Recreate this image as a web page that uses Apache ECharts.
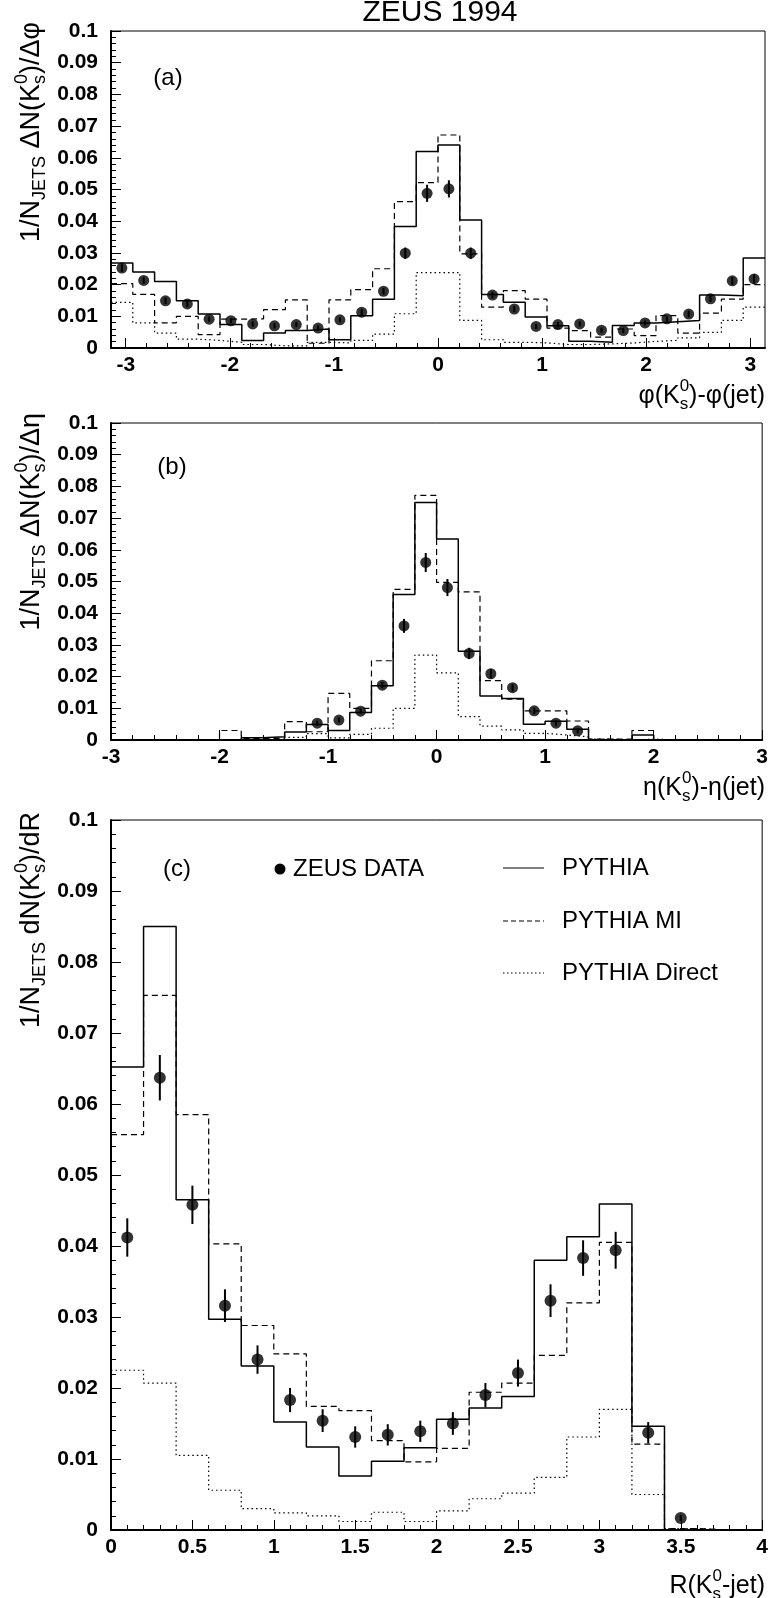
<!DOCTYPE html>
<html><head><meta charset="utf-8">
<script src="https://cdn.jsdelivr.net/npm/echarts@6/dist/echarts.min.js"></script>
<style>html,body{margin:0;padding:0;background:#fff}#c{width:771px;height:1598px}</style>
</head><body><div id="c"></div>
<script>
const PI = Math.PI;
const FONT = '"Liberation Sans", Arial, Helvetica, sans-serif';

// ---------- Panel (a): 30 bins over [-pi, pi] ----------
const phiBins = { lo: -PI, n: 30, hi: PI };
const phiPythia   = [0.0268,0.0240,0.0210,0.0149,0.0107,0.0074,0.0024,0.0047,0.0055,0.0060,0.0026,0.0102,0.0154,0.0383,0.0620,0.0640,0.0404,0.0169,0.0144,0.0098,0.0070,0.0021,0.0018,0.0071,0.0079,0.0083,0.0087,0.0167,0.0165,0.0284];
const phiPythiaMI = [0.0203,0.0169,0.0079,0.0100,0.0042,0.0091,0.0092,0.0121,0.0152,0.0015,0.0152,0.0184,0.0250,0.0462,0.0522,0.0672,0.0297,0.0129,0.0181,0.0154,0.0063,0.0055,0.0034,0.0060,0.0039,0.0102,0.0047,0.0110,0.0154,0.0200];
const phiDirect   = [0.0144,0.0079,0.0047,0.0028,0.0024,0.0018,0.0011,0.0007,0.0007,0.0018,0.0016,0.0024,0.0044,0.0108,0.0238,0.0238,0.0087,0.0026,0.0018,0.0016,0.0011,0.0011,0.0013,0.0016,0.0021,0.0024,0.0032,0.0049,0.0087,0.0129];
const phiData     = [0.0252,0.0213,0.0149,0.0139,0.0091,0.0086,0.0076,0.0070,0.0074,0.0063,0.0089,0.0113,0.0179,0.0299,0.0488,0.0502,0.0299,0.0167,0.0123,0.0068,0.0074,0.0076,0.0056,0.0055,0.0079,0.0092,0.0107,0.0155,0.0212,0.0218];
const phiErr      = [0.0012,0.0010,0.0010,0.0010,0.0008,0.0008,0.0008,0.0008,0.0008,0.0008,0.0008,0.0010,0.0010,0.0018,0.0027,0.0027,0.0018,0.0010,0.0010,0.0008,0.0008,0.0008,0.0008,0.0008,0.0008,0.0008,0.0010,0.0010,0.0012,0.0015];
const phiMajorTicks = [-3,-2,-1,0,1,2,3];
const phiMinorTicks = [-3,-2.8,-2.6,-2.4,-2.2,-2,-1.8,-1.6,-1.4,-1.2,-1,-0.8,-0.6,-0.4,-0.2,0,0.2,0.4,0.6,0.8,1,1.2,1.4,1.6,1.8,2,2.2,2.4,2.6,2.8,3];

// ---------- Panel (b): 30 bins over [-3, 3] ----------
const etaBins = { lo: -3, n: 30, hi: 3 };
const etaPythia   = [0,0,0,0,0,0,0.0007,0.0010,0.0025,0.0049,0.0030,0.0087,0.0171,0.0459,0.0749,0.0634,0.0280,0.0139,0.0131,0.0050,0.0059,0.0034,0,0,0.0016,0,0,0,0,0];
const etaPythiaMI = [0,0,0,0,0,0.0030,0.0005,0.0005,0.0058,0.0026,0.0147,0.0100,0.0250,0.0475,0.0772,0.0497,0.0467,0.0187,0.0129,0.0092,0.0092,0.0060,0.0003,0.0003,0.0030,0,0,0,0,0];
const etaDirect   = [0,0,0,0,0,0,0,0,0.0008,0.0020,0.0007,0.0018,0.0037,0.0100,0.0268,0.0212,0.0074,0.0044,0.0032,0.0021,0.0016,0.0010,0.0003,0,0.0003,0,0,0,0,0];
const etaData     = [null,null,null,null,null,null,null,null,null,0.0053,0.0063,0.0091,0.0173,0.0360,0.0560,0.0481,0.0273,0.0209,0.0165,0.0092,0.0053,0.0029,null,null,null,null,null,null,null,null];
const etaErr      = [0,0,0,0,0,0,0,0,0,0.0008,0.0008,0.0008,0.0010,0.0022,0.0030,0.0027,0.0018,0.0015,0.0012,0.0010,0.0008,0.0008,0,0,0,0,0,0,0,0];

// ---------- Panel (c): 20 bins over [0, 4] ----------
const rBins = { lo: 0, n: 20, hi: 4 };
const rPythia   = [0.0652,0.0850,0.0465,0.0297,0.0231,0.0152,0.0117,0.0076,0.0097,0.0116,0.0156,0.0172,0.0188,0.0380,0.0413,0.0459,0.0146,0,0,0];
const rPythiaMI = [0.0557,0.0753,0.0585,0.0403,0.0288,0.0248,0.0174,0.0168,0.0126,0.0096,0.0115,0.0194,0.0207,0.0246,0.0320,0.0405,0.0121,0.0002,0,0];
const rDirect   = [0.0225,0.0207,0.0105,0.0056,0.0030,0.0024,0.0020,0.0012,0.0025,0.0012,0.0027,0.0044,0.0052,0.0074,0.0131,0.0170,0.0050,0.0002,0,0];
const rData     = [0.0412,0.0637,0.0458,0.0316,0.0240,0.0183,0.0154,0.0131,0.0134,0.0139,0.0150,0.0190,0.0221,0.0323,0.0383,0.0394,0.0137,0.0017,null,null];
const rErr      = [0.0027,0.0032,0.0027,0.0023,0.0020,0.0017,0.0016,0.0015,0.0015,0.0015,0.0016,0.0017,0.0019,0.0023,0.0025,0.0026,0.0015,0.0004,0,0];

const legendNames = ['ZEUS DATA','PYTHIA','PYTHIA MI','PYTHIA Direct'];

// ---------- helpers ----------
function binEdge(b, i){ return b.lo + (b.hi - b.lo) * i / b.n; }
function stepData(b, vals){
  const d = vals.map((v,i)=>[binEdge(b,i), v]);
  d.push([binEdge(b, vals.length), vals[vals.length-1]]);
  return d;
}
function pointData(b, vals, errs){
  const out = [];
  vals.forEach((v,i)=>{ if(v!==null) out.push([(binEdge(b,i)+binEdge(b,i+1))/2, v, errs[i]]); });
  return out;
}
function histSeries(idx, b, vals, kind){
  const ls = {color:'#000', width: 1.5, type:'solid'};
  if(kind==='dash'){ ls.width = 1.2; ls.type = [6,4]; }
  if(kind==='dot'){ ls.width = 1.2; ls.type = [1.5,3]; }
  return {type:'line', xAxisIndex:idx, yAxisIndex:idx, step:'end', data: stepData(b, vals),
    showSymbol:false, symbol:'none', lineStyle: ls, silent:true, z:2, animation:false};
}
function dataSeries(idx, b, vals, errs, size){
  const pts = pointData(b, vals, errs);
  return [
    {type:'custom', xAxisIndex:idx, yAxisIndex:idx, data: pts, z:4, silent:true,
     encode:{x:0, y:1},
     renderItem:(p, api)=>{
       const x = api.value(0), y = api.value(1), e = api.value(2);
       const a = api.coord([x, y - e]), c = api.coord([x, y + e]);
       return {type:'line', shape:{x1:a[0], y1:a[1], x2:c[0], y2:c[1]}, style:{stroke:'#000', lineWidth:2}};
     }},
    {type:'scatter', xAxisIndex:idx, yAxisIndex:idx, data: pts.map(p=>[p[0],p[1]]), symbol:'circle',
     symbolSize:size, itemStyle:{color:'#000'}, z:5, silent:true}
  ];
}
const tickFont = {color:'#000', fontFamily:FONT, fontWeight:'bold', fontSize:21};
function yAxis(gi){
  return {type:'value', gridIndex:gi, min:0, max:0.1, interval:0.01,
    axisLine:{show:true, onZero:false, lineStyle:{color:'#000', width:2}},
    axisTick:{show:true, inside:true, length:10, lineStyle:{color:'#000', width:1}},
    minorTick:{show:true, splitNumber:5, length:5, lineStyle:{color:'#000', width:1}},
    splitLine:{show:false}, minorSplitLine:{show:false},
    axisLabel:Object.assign({margin:13, formatter:v=>String(+v.toFixed(3))}, tickFont)};
}
function xAxisStd(gi, min, max, interval){
  return {type:'value', gridIndex:gi, min:min, max:max, interval:interval, position:'bottom',
    axisLine:{show:true, onZero:false, lineStyle:{color:'#000', width:2}},
    axisTick:{show:true, inside:true, length:10, lineStyle:{color:'#000', width:1}},
    minorTick:{show:true, splitNumber:5, length:5, lineStyle:{color:'#000', width:1}},
    splitLine:{show:false},
    axisLabel:Object.assign({margin:7, formatter:v=>String(+v.toFixed(2))}, tickFont)};
}

// math-style text: segments laid out along a baseline, with sub/superscripts
const mctx = document.createElement('canvas').getContext('2d');
function tw(t, s){ mctx.font = s + 'px ' + FONT; return mctx.measureText(t).width; }
function mathText(segs, opt){
  let x = 0; const kids = [];
  segs.forEach(seg=>{
    const parts = seg.stack || [seg]; let mw = 0;
    parts.forEach(p=>{
      kids.push({type:'text', x:x, y:p.dy||0, silent:true,
        style:{text:p.t, fontSize:p.s, fontFamily:FONT, fill:'#000', align:'left', verticalAlign:'middle'}});
      mw = Math.max(mw, tw(p.t, p.s));
    });
    x += mw;
  });
  const shift = opt.anchor === 'end' ? -x : (opt.anchor === 'middle' ? -x/2 : 0);
  kids.forEach(k=>{ k.x += shift; });
  return {type:'group', x:opt.x, y:opt.y, rotation:opt.rotation||0, children:kids, silent:true};
}
const M = 25, S = 17;          // x titles / legend
const YM = 27, YS = 18;        // y titles
function kStack(m, s){ return {stack:[{t:'0', s:s, dy:-Math.round(m*0.38)},{t:'s', s:s, dy:Math.round(m*0.3)}]}; }

const graphics = [];
graphics.push({type:'text', x:440, y:13, silent:true, style:{text:'ZEUS 1994', fontSize:30, fontFamily:FONT, fill:'#000', align:'center', verticalAlign:'middle'}});
// y titles (rotated)
const yT = [
  {mid:'ΔN', end:')/Δφ', top:22},
  {mid:'ΔN', end:')/Δη', top:413},
  {mid:'dN', end:')/dR', top:812}
];
yT.forEach(o=>graphics.push(mathText([{t:'1/N', s:YM},{t:'JETS', s:YS, dy:8},{t:' '+o.mid+'(K', s:YM}, kStack(YM, YS), {t:o.end, s:YM}],
  {x:32, y:o.top, rotation:PI/2, anchor:'end'})));
// x titles
graphics.push(mathText([{t:'φ(K', s:M}, kStack(M, S), {t:')-φ(jet)', s:M}], {x:765, y:396, anchor:'end'}));
graphics.push(mathText([{t:'η(K', s:M}, kStack(M, S), {t:')-η(jet)', s:M}], {x:765, y:788, anchor:'end'}));
graphics.push(mathText([{t:'R(K', s:M}, kStack(M, S), {t:'-jet)', s:M}], {x:765, y:1586, anchor:'end'}));
// panel tags
[['(a)',168,78],['(b)',172,467],['(c)',177,869]].forEach(t=>graphics.push({type:'text', x:t[1], y:t[2], silent:true,
  style:{text:t[0], fontSize:24, fontFamily:FONT, fill:'#000', align:'center', verticalAlign:'middle'}}));
// legend (panel c)
graphics.push({type:'circle', shape:{cx:280, cy:869, r:5.5}, style:{fill:'#000'}, silent:true});
graphics.push({type:'text', x:293, y:869, silent:true, style:{text:legendNames[0], fontSize:24, fontFamily:FONT, fill:'#000', align:'left', verticalAlign:'middle'}});
const legLines = [[legendNames[1],868,'solid'],[legendNames[2],921,[5,3]],[legendNames[3],973,[1.5,2.5]]];
legLines.forEach(l=>{
  graphics.push({type:'line', shape:{x1:503, y1:l[1], x2:544, y2:l[1]}, style:{stroke:'#000', lineWidth:1.2, lineDash: l[2]==='solid'?null:l[2]}, silent:true});
  graphics.push({type:'text', x:562, y:l[1], silent:true, style:{text:l[0], fontSize:24, fontFamily:FONT, fill:'#000', align:'left', verticalAlign:'middle'}});
});

const gridBase = {left:111, width:654, show:true, borderColor:'#000', borderWidth:1, backgroundColor:'transparent', containLabel:false};
const phiX = xAxisStd(0, -PI, PI, 1);
delete phiX.interval;
phiX.axisTick.customValues = phiMajorTicks;
phiX.axisLabel.customValues = phiMajorTicks;
phiX.minorTick = {show:false};
const phiXMinor = {type:'value', gridIndex:0, min:-PI, max:PI, position:'bottom', offset:0,
  axisLine:{show:false}, axisLabel:{show:false}, splitLine:{show:false},
  axisTick:{show:true, inside:true, length:5, customValues: phiMinorTicks, lineStyle:{color:'#000', width:1}}};

const option = {
  animation:false,
  backgroundColor:'#fff',
  grid:[
    Object.assign({top:31, height:317}, gridBase),
    Object.assign({top:423, height:317}, gridBase),
    Object.assign({top:820, height:710}, gridBase)
  ],
  xAxis:[ phiX, xAxisStd(1, -3, 3, 1), xAxisStd(2, 0, 4, 0.5), phiXMinor ],
  yAxis:[ yAxis(0), yAxis(1), yAxis(2) ],
  series:[].concat(
    histSeries(0, phiBins, phiDirect, 'dot'), histSeries(0, phiBins, phiPythiaMI, 'dash'), histSeries(0, phiBins, phiPythia, 'solid'),
    dataSeries(0, phiBins, phiData, phiErr, 11),
    histSeries(1, etaBins, etaDirect, 'dot'), histSeries(1, etaBins, etaPythiaMI, 'dash'), histSeries(1, etaBins, etaPythia, 'solid'),
    dataSeries(1, etaBins, etaData, etaErr, 11),
    histSeries(2, rBins, rDirect, 'dot'), histSeries(2, rBins, rPythiaMI, 'dash'), histSeries(2, rBins, rPythia, 'solid'),
    dataSeries(2, rBins, rData, rErr, 12)
  ),
  graphic: graphics
};
const chart = echarts.init(document.getElementById('c'), null, {renderer:'canvas'});
chart.setOption(option);
</script>
</body></html>
